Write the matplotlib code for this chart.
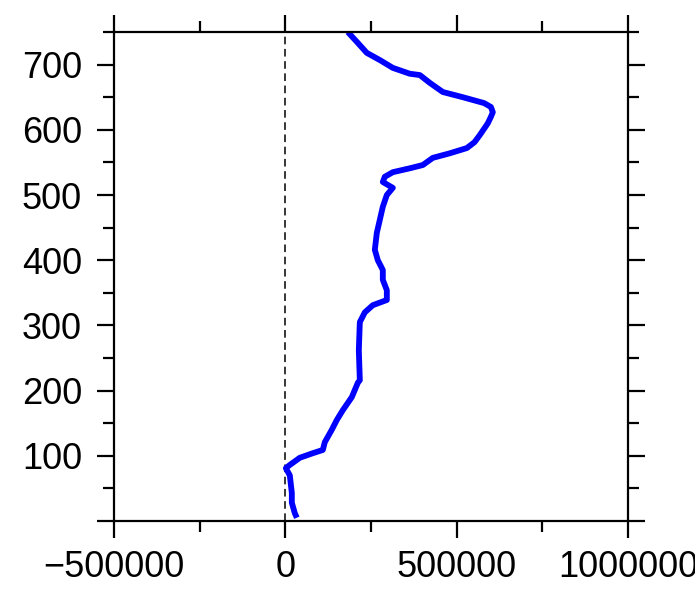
import matplotlib
matplotlib.use("Agg")
import matplotlib.pyplot as plt

plt.rcParams['font.family'] = ['Liberation Sans', 'DejaVu Sans']

# profile: value vs height
height = [5, 12, 28, 43, 70, 81, 86, 97, 104, 109, 121, 140, 155, 170, 190,
          212, 216, 262, 305, 320, 331, 339, 354, 370, 385, 400, 416, 442,
          462, 482, 500, 511, 520, 528, 535, 541, 546, 557, 564, 572, 581,
          592, 610, 620, 627, 635, 641, 650, 658, 672, 684, 686, 695, 707,
          718, 735, 750]
value = [33600, 27700, 19000, 19000, 13100, 1500, 13100, 42300, 80200,
         109400, 115300, 135700, 150300, 167800, 194000, 211600, 217400,
         214500, 217400, 232000, 255300, 296200, 296200, 284500, 284500,
         269900, 261200, 267000, 275800, 284500, 296200, 313700, 284500,
         290300, 313700, 363300, 401200, 430400, 480000, 529600, 552000,
         567600, 590900, 600000, 605500, 600000, 580000, 518000, 459600,
         421700, 392500, 363300, 313700, 275800, 237800, 208600, 182400]

xticks = [-500000, 0, 500000, 1000000]
xtick_labels = ['\u2212500000', '0', '500000', '1000000']
xminor = [-250000, 250000, 750000]
yticks = [0, 100, 200, 300, 400, 500, 600, 700]
ytick_labels = ['', '100', '200', '300', '400', '500', '600', '700']
yminor = [50, 150, 250, 350, 450, 550, 650, 750]

fig = plt.figure(figsize=(6.95, 5.93), dpi=100)
ax = fig.add_axes([0.164, 0.1214, 0.7396, 0.8246])

ax.axvline(0, color='k', lw=1.1, ls=(0, (5, 3)), zorder=1)
ax.plot(value, height, color='#0000ff', lw=4.2, solid_joinstyle='round',
        solid_capstyle='butt', zorder=2)

ax.set_xlim(-500000, 1000000)
ax.set_ylim(0, 750)
ax.set_xticks(xticks, xtick_labels)
ax.set_xticks(xminor, minor=True)
ax.set_yticks(yticks, ytick_labels)
ax.set_yticks(yminor, minor=True)

for s in ax.spines.values():
    s.set_linewidth(1.6)
ax.tick_params(which='both', direction='out', top=True, right=True,
               width=1.6, labelsize=26, colors='k')
ax.tick_params(which='major', length=12)
ax.tick_params(which='minor', length=8)
ax.tick_params(axis='x', pad=9)
ax.tick_params(axis='y', pad=11)

fig.savefig('out.png', dpi=100)
